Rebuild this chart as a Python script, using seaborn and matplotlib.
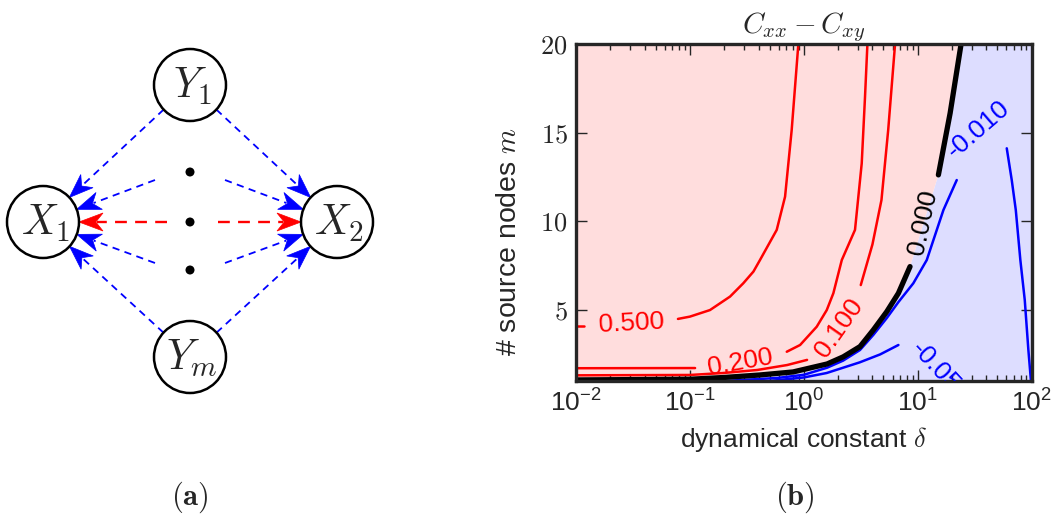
import numpy as np
import pandas as pd
import matplotlib
matplotlib.use("Agg")
import matplotlib.pyplot as plt
from matplotlib.patches import Circle, Polygon
from matplotlib.ticker import FuncFormatter, LogLocator, NullFormatter
import seaborn as sns

# ---------------- data ----------------
# contour 0.500
c500_a_delta = [0.01, 0.0118]
c500_a_m = [4.1, 4.1]
c500_b_delta = [0.0785, 0.100, 0.150, 0.225, 0.294, 0.361, 0.412, 0.578, 0.684, 0.782, 0.895]
c500_b_m = [4.5, 4.63, 5.0, 5.76, 6.51, 7.17, 7.82, 9.52, 11.39, 15.15, 20.0]
# contour 0.200
c200_a_delta = [0.01, 0.111]
c200_a_m = [1.72, 1.73]
c200_b_delta = [0.708, 0.927, 1.297, 1.589, 1.816, 2.153, 2.812, 3.221, 3.443, 3.614]
c200_b_m = [2.65, 3.03, 4.06, 5.0, 5.95, 7.82, 9.52, 13.27, 17.03, 20.0]
# contour 0.100
c100_a_delta = [0.01, 0.10, 0.195, 0.389, 0.713, 1.067]
c100_a_m = [1.32, 1.34, 1.45, 1.62, 1.90, 2.19]
c100_b_delta = [3.16, 4.0, 4.8, 5.5, 6.32]
c100_b_m = [6.41, 8.7, 11.2, 15.15, 20.0]
# contour 0.000
c000_a_delta = [0.01, 0.10, 0.20, 0.412, 0.804, 1.600, 2.213, 3.112, 4.074, 5.346, 6.761, 8.551]
c000_a_m = [1.06, 1.10, 1.20, 1.34, 1.51, 1.96, 2.36, 2.94, 3.88, 4.91, 5.95, 7.45]
c000_b_delta = [15.17, 19.23, 24.0]
c000_b_m = [12.62, 16.1, 20.0]
# contour -0.010
c010_a_delta = [0.1995, 0.582, 1.0, 1.600, 2.213, 3.112, 4.074, 5.346, 6.761, 9.14, 11.99, 16.79, 21.98]
c010_a_m = [1.0, 1.17, 1.35, 1.75, 2.15, 2.75, 3.6, 4.55, 5.45, 6.51, 7.82, 10.64, 12.33]
c010_b_delta = [60.4, 66.8, 72.5, 79.5, 86.9, 93.5, 98.5]
c010_b_m = [14.12, 12.33, 10.64, 7.82, 5.57, 2.75, 1.0]
# contour -0.050
c050_delta = [0.501, 1.0, 1.585, 3.09, 4.677, 6.761]
c050_m = [1.0, 1.2, 1.45, 2.05, 2.5, 3.03]

# contour labels: text, delta, m, rotation
label_text = ["0.500", "0.200", "0.100", "0.000", "-0.010", "-0.050"]
label_delta = [0.0304, 0.275, 2.04, 11.1, 33.8, 9.46]
label_m = [4.27, 2.07, 3.99, 9.97, 15.21, 3.03]
label_rot = [3, 10, 55, 78, 41, -47]

x_ticks = [0.01, 0.1, 1, 10, 100]
y_ticks = [5, 10, 15, 20]

# ---------------- style ----------------
sns.set_style("ticks")
plt.rcParams["font.family"] = ["Liberation Sans", "DejaVu Sans"]
plt.rcParams["mathtext.fontset"] = "cm"

RED = "#ff0000"
BLUE = "#0000ff"
RED_FILL = "#ffdddd"
BLUE_FILL = "#ddddff"

fig = plt.figure(figsize=(10.51, 5.25), dpi=100)

# ---------------- panel (a): network diagram ----------------
ax0 = fig.add_axes([0, 0, 0.45, 1])
W0 = 0.45 * 1051
ax0.set_xlim(0, W0)
ax0.set_ylim(525, 0)
ax0.axis("off")

nodes = {"Y1": (190, 85), "X1": (43, 222), "X2": (337, 222), "Ym": (190, 357)}
R = 36
node_text = {"Y1": r"$Y_1$", "X1": r"$X_1$", "X2": r"$X_2$", "Ym": r"$Y_m$"}
for k, (cx, cy) in nodes.items():
    ax0.add_patch(Circle((cx, cy), R, facecolor="white", edgecolor="black", lw=1.8, zorder=3))
    ax0.text(cx + 2, cy + 1, node_text[k], ha="center", va="center", fontsize=30, zorder=4)

for cy in (172, 222, 270):
    ax0.add_patch(Circle((190, cy), 4.5, facecolor="black", edgecolor="none", zorder=3))


def stealth_arrow(ax, start, tip, color, lw, dash, hl=24, hw=9):
    s = np.array(start, float)
    t = np.array(tip, float)
    u = (t - s) / np.linalg.norm(t - s)
    n = np.array([-u[1], u[0]])
    back = t - 0.75 * hl * u
    ax.plot([s[0], back[0]], [s[1], back[1]], color=color, lw=lw,
            linestyle=(0, dash), solid_capstyle="butt", zorder=2)
    head = [t, t - hl * u + hw * n, t - 0.7 * hl * u, t - hl * u - hw * n]
    ax.add_patch(Polygon(head, closed=True, facecolor=color, edgecolor=color, lw=0.5, zorder=2))


def edge_pts(a, b):
    a = np.array(a, float)
    b = np.array(b, float)
    u = (b - a) / np.linalg.norm(b - a)
    return a + R * u, b - R * u


blue_dash = (4, 3)
for src, dst in [("Y1", "X1"), ("Y1", "X2"), ("Ym", "X1"), ("Ym", "X2")]:
    s, t = edge_pts(nodes[src], nodes[dst])
    stealth_arrow(ax0, s, t, BLUE, 1.3, blue_dash)

for start in [(155, 180), (155, 263)]:
    _, t = edge_pts(start, nodes["X1"])
    stealth_arrow(ax0, start, t, BLUE, 1.3, blue_dash)
for start in [(225, 180), (225, 263)]:
    _, t = edge_pts(start, nodes["X2"])
    stealth_arrow(ax0, start, t, BLUE, 1.3, blue_dash)

stealth_arrow(ax0, (167, 222), (79, 222), RED, 1.7, (5, 3.5))
stealth_arrow(ax0, (218, 222), (301, 222), RED, 1.7, (5, 3.5))

ax0.text(190, 497, r"$\mathbf{(a)}$", ha="center", va="center", fontsize=22)

# ---------------- panel (b): contour plot ----------------
ax = fig.add_axes([576 / 1051, 1 - 381 / 525, (1031.7 - 576) / 1051, (381 - 44) / 525])
ax.set_xscale("log")
ax.set_xlim(0.01, 100)
ax.set_ylim(1, 20)

zero_delta = c000_a_delta + c000_b_delta
zero_m = c000_a_m + c000_b_m
red_poly = list(zip(zero_delta, zero_m)) + [(0.01, 20)]
blue_poly = list(zip(zero_delta, zero_m)) + [(100, 20), (100, 1), (0.01, 1)]
ax.add_patch(Polygon(blue_poly, closed=True, facecolor=BLUE_FILL, edgecolor="none", zorder=0))
ax.add_patch(Polygon(red_poly, closed=True, facecolor=RED_FILL, edgecolor="none", zorder=0))

segments = [
    (c500_a_delta, c500_a_m, RED, 1.8),
    (c500_b_delta, c500_b_m, RED, 1.8),
    (c200_a_delta, c200_a_m, RED, 1.8),
    (c200_b_delta, c200_b_m, RED, 1.8),
    (c100_a_delta, c100_a_m, RED, 1.8),
    (c100_b_delta, c100_b_m, RED, 1.8),
    (c010_a_delta, c010_a_m, BLUE, 1.8),
    (c010_b_delta, c010_b_m, BLUE, 1.8),
    (c050_delta, c050_m, BLUE, 1.8),
    (c000_a_delta, c000_a_m, "black", 3.8),
    (c000_b_delta, c000_b_m, "black", 3.8),
]
for xd, yd, col, lw in segments:
    df = pd.DataFrame({"delta": xd, "m": yd})
    sns.lineplot(data=df, x="delta", y="m", sort=False, estimator=None,
                 color=col, lw=lw, ax=ax, zorder=2)

label_colors = [RED, RED, RED, "black", BLUE, BLUE]
for i, (txt, xd, yd, rot) in enumerate(zip(label_text, label_delta, label_m, label_rot)):
    if txt == "-0.050":
        ax.text(xd, yd, txt, color=label_colors[i], fontsize=19, rotation=rot,
                rotation_mode="anchor", ha="left", va="center", clip_on=True, zorder=3)
    else:
        ax.text(xd, yd, txt, color=label_colors[i], fontsize=19, rotation=rot,
                rotation_mode="anchor", ha="center", va="center", zorder=3)

ax.set_xticks(x_ticks)
ax.set_yticks(y_ticks)
ax.xaxis.set_minor_locator(LogLocator(base=10, subs=np.arange(2, 10)))
ax.xaxis.set_minor_formatter(NullFormatter())
ax.yaxis.set_major_formatter(FuncFormatter(lambda v, p: r"$%d$" % v))
ax.tick_params(which="both", direction="in", top=True, right=True, labelsize=19, width=1.0)
ax.tick_params(which="major", length=8, pad=6)
ax.tick_params(which="minor", length=4)
for sp in ax.spines.values():
    sp.set_linewidth(2.4)
    sp.set_visible(True)

ax.set_xlabel(r"dynamical constant $\delta$", fontsize=19, labelpad=6)
ax.set_ylabel(r"# source nodes $m$", fontsize=20.5)
ax.yaxis.set_label_coords(-0.118, 0.415)
ax.set_title(r"$C_{xx}-C_{xy}$", fontsize=21, pad=6)

fig.text(795 / 1051, 1 - 497 / 525, r"$\mathbf{(b)}$", ha="center", va="center", fontsize=22)

fig.savefig("out.png", dpi=100)
